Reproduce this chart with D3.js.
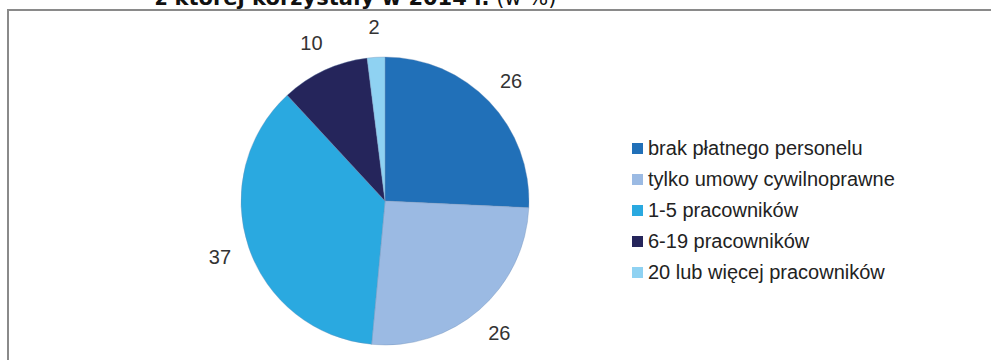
<!DOCTYPE html>
<html>
<head>
<meta charset="utf-8">
<script src="https://cdn.jsdelivr.net/npm/d3@7"></script>
<style>
  body { margin: 0; background: #fff; }
  svg { display: block; }
</style>
</head>
<body>
<div id="chart"></div>
<script>
// data (per cent)
const categories = ["brak płatnego personelu", "tylko umowy cywilnoprawne", "1-5 pracowników", "6-19 pracowników", "20 lub więcej pracowników"];
const values = [26, 26, 37, 10, 2];
const colors = ["#2170b8", "#9bbae3", "#2aa9e0", "#25255b", "#8fd2f2"];

const width = 991, height = 360;

const svg = d3.select("#chart")
  .append("svg")
    .attr("width", width)
    .attr("height", height);

// frame around the chart (runs off the right and bottom edge)
svg.append("rect")
  .attr("x", 8)
  .attr("y", 10)
  .attr("width", 1100)
  .attr("height", 500)
  .style("fill", "none")
  .style("stroke", "#8a8a8a")
  .style("stroke-width", 2);

// title, mostly cut off at the top
const title = svg.append("text")
  .attr("x", 155)
  .attr("y", 5)
  .style("font-family", "DejaVu Sans, Verdana, sans-serif")
  .style("font-size", "21px")
  .style("fill", "#111");
title.append("tspan").style("font-weight", "bold").text("z której korzystały w 2014 r.");
title.append("tspan").text(" (w %)");

const cx = 385, cy = 201, radius = 144;

const pie = d3.pie().sort(null).value(d => d);
const arcs = pie(values);

const arc = d3.arc().innerRadius(0).outerRadius(radius);
const labelArc = d3.arc().innerRadius(radius * 1.21).outerRadius(radius * 1.21);

const g = svg.append("g")
  .attr("transform", `translate(${cx},${cy})`);

g.selectAll("path")
  .data(arcs)
  .join("path")
    .attr("d", arc)
    .style("fill", (d, i) => colors[i])
    .style("stroke", "#6f8fb5")
    .style("stroke-width", 0.6)
    .style("stroke-opacity", 0.6);

g.selectAll("text.lbl")
  .data(arcs)
  .join("text")
    .attr("class", "lbl")
    .attr("transform", d => `translate(${labelArc.centroid(d)})`)
    .attr("text-anchor", "middle")
    .attr("dy", "0.35em")
    .style("font-family", "Liberation Sans, Arial, sans-serif")
    .style("font-size", "20px")
    .style("fill", "#333")
    .text(d => d.data);

// legend
const legend = svg.append("g")
  .attr("transform", "translate(632,148)");

const rows = legend.selectAll("g")
  .data(categories)
  .join("g")
    .attr("transform", (d, i) => `translate(0,${i * 31})`);

rows.append("rect")
  .attr("x", 0)
  .attr("y", -5)
  .attr("width", 11)
  .attr("height", 11)
  .style("fill", (d, i) => colors[i]);

rows.append("text")
  .attr("x", 16)
  .attr("y", 0)
  .attr("dy", "0.35em")
  .style("font-family", "Liberation Sans, Arial, sans-serif")
  .style("font-size", "20px")
  .style("fill", "#222")
  .text(d => d);
</script>
</body>
</html>
